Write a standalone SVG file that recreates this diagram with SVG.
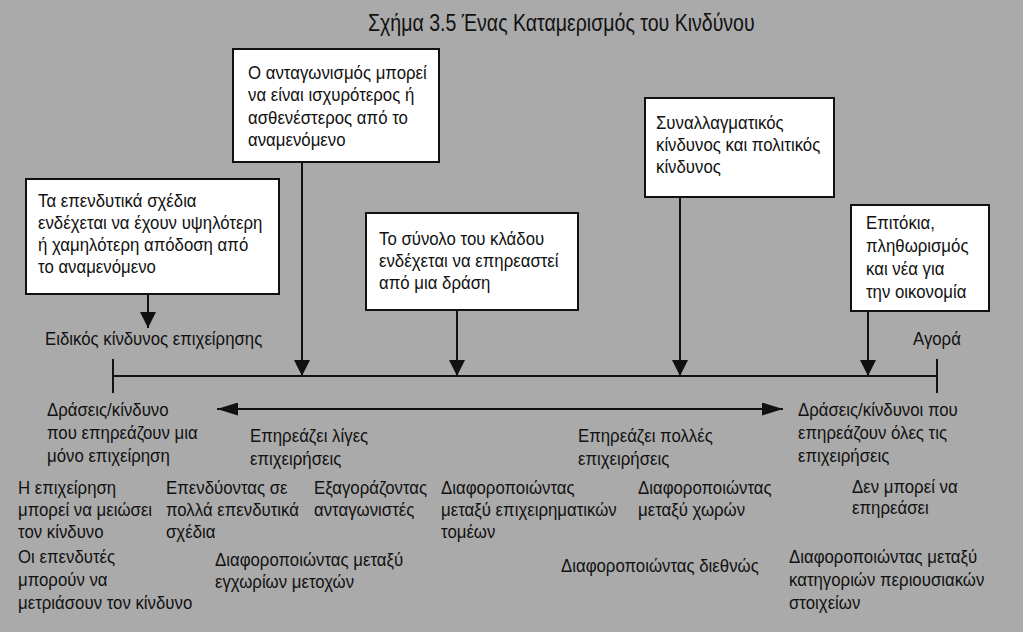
<svg xmlns="http://www.w3.org/2000/svg" width="1023" height="632" viewBox="0 0 1023 632">
<defs>
<style>
text{font-family:"Liberation Sans",Arial,sans-serif;font-size:18.5px;fill:#111;transform-box:fill-box;transform-origin:left center;transform:scaleX(0.908)}
.title{font-size:23px;transform:scaleX(0.85)}
.box{fill:#fff;stroke:#111;stroke-width:2}
.ln{stroke:#111;stroke-width:2;fill:none}
</style>
<marker id="ah" viewBox="0 0 16 18" refX="16" refY="9" markerWidth="16" markerHeight="18" markerUnits="userSpaceOnUse" orient="auto">
<path d="M0,1 L16,9 L0,17 Z" fill="#111"/>
</marker>
<marker id="ah2" viewBox="0 0 21 13" refX="21" refY="6.5" markerWidth="21" markerHeight="13" markerUnits="userSpaceOnUse" orient="auto-start-reverse">
<path d="M0,0 L21,6.5 L0,13 Z" fill="#111"/>
</marker>
</defs>
<rect width="1023" height="632" fill="#aaaaaa"/>
<text class="title" x="368" y="31">Σχήμα 3.5 Ένας Καταμερισμός του Κινδύνου</text>

<g id="connectors">
<line class="ln" x1="113" y1="376" x2="937" y2="376"/>
<line class="ln" x1="113" y1="359" x2="113" y2="393"/>
<line class="ln" x1="937" y1="359" x2="937" y2="393"/>
<line class="ln" x1="148" y1="294" x2="148" y2="328" marker-end="url(#ah)"/>
<line class="ln" x1="302" y1="162" x2="302" y2="376" marker-end="url(#ah)"/>
<line class="ln" x1="457" y1="310" x2="457" y2="376" marker-end="url(#ah)"/>
<line class="ln" x1="680" y1="197" x2="680" y2="376" marker-end="url(#ah)"/>
<line class="ln" x1="868" y1="311" x2="868" y2="376" marker-end="url(#ah)"/>
<line class="ln" x1="217" y1="409" x2="783" y2="409" marker-start="url(#ah2)" marker-end="url(#ah2)"/>
</g>

<g id="box-competition">
<rect class="box" x="233" y="49" width="206" height="113"/>
<text x="248" y="79">Ο ανταγωνισμός μπορεί</text>
<text x="248" y="101">να είναι ισχυρότερος ή</text>
<text x="248" y="124">ασθενέστερος από το</text>
<text x="248" y="146">αναμενόμενο</text>
</g>

<g id="box-projects">
<rect class="box" x="26" y="179" width="253" height="115"/>
<text x="38" y="207">Τα επενδυτικά σχέδια</text>
<text x="38" y="229">ενδέχεται να έχουν υψηλότερη</text>
<text x="38" y="251">ή χαμηλότερη απόδοση από</text>
<text x="38" y="273">το αναμενόμενο</text>
</g>

<g id="box-industry">
<rect class="box" x="366" y="213" width="212" height="97"/>
<text x="379" y="245">Το σύνολο του κλάδου</text>
<text x="379" y="267">ενδέχεται να επηρεαστεί</text>
<text x="379" y="289">από μια δράση</text>
</g>

<g id="box-fx">
<rect class="box" x="645" y="98" width="189" height="99"/>
<text x="656" y="129">Συναλλαγματικός</text>
<text x="656" y="151">κίνδυνος και πολιτικός</text>
<text x="656" y="173">κίνδυνος</text>
</g>

<g id="box-rates">
<rect class="box" x="851" y="205" width="138" height="106"/>
<text x="866" y="229">Επιτόκια,</text>
<text x="866" y="252">πληθωρισμός</text>
<text x="866" y="275">και νέα για</text>
<text x="866" y="298">την οικονομία</text>
</g>

<g id="labels">
<text x="45" y="345">Ειδικός κίνδυνος επιχείρησης</text>
<text x="913" y="345">Αγορά</text>

<text x="47" y="416">Δράσεις/κίνδυνο</text>
<text x="47" y="439">που επηρεάζουν μια</text>
<text x="47" y="462">μόνο επιχείρηση</text>

<text x="250" y="442">Επηρεάζει λίγες</text>
<text x="250" y="465">επιχειρήσεις</text>

<text x="578" y="442">Επηρεάζει πολλές</text>
<text x="578" y="465">επιχειρήσεις</text>

<text x="798" y="416">Δράσεις/κίνδυνοι που</text>
<text x="798" y="439">επηρεάζουν όλες τις</text>
<text x="798" y="462">επιχειρήσεις</text>

<text x="18" y="494">Η επιχείρηση</text>
<text x="18" y="516">μπορεί να μειώσει</text>
<text x="18" y="538">τον κίνδυνο</text>

<text x="166" y="494">Επενδύοντας σε</text>
<text x="166" y="516">πολλά επενδυτικά</text>
<text x="166" y="538">σχέδια</text>

<text x="314" y="494">Εξαγοράζοντας</text>
<text x="314" y="516">ανταγωνιστές</text>

<text x="441" y="494">Διαφοροποιώντας</text>
<text x="441" y="516">μεταξύ επιχειρηματικών</text>
<text x="441" y="538">τομέων</text>

<text x="638" y="494">Διαφοροποιώντας</text>
<text x="638" y="516">μεταξύ χωρών</text>

<text x="852" y="493">Δεν μπορεί να</text>
<text x="852" y="514">επηρεάσει</text>

<text x="18" y="563">Οι επενδυτές</text>
<text x="18" y="586">μπορούν να</text>
<text x="18" y="609">μετριάσουν τον κίνδυνο</text>

<text x="215" y="566">Διαφοροποιώντας μεταξύ</text>
<text x="215" y="588">εγχωρίων μετοχών</text>

<text x="561" y="572">Διαφοροποιώντας διεθνώς</text>

<text x="789" y="563">Διαφοροποιώντας μεταξύ</text>
<text x="789" y="586">κατηγοριών περιουσιακών</text>
<text x="789" y="609">στοιχείων</text>
</g>
</svg>
